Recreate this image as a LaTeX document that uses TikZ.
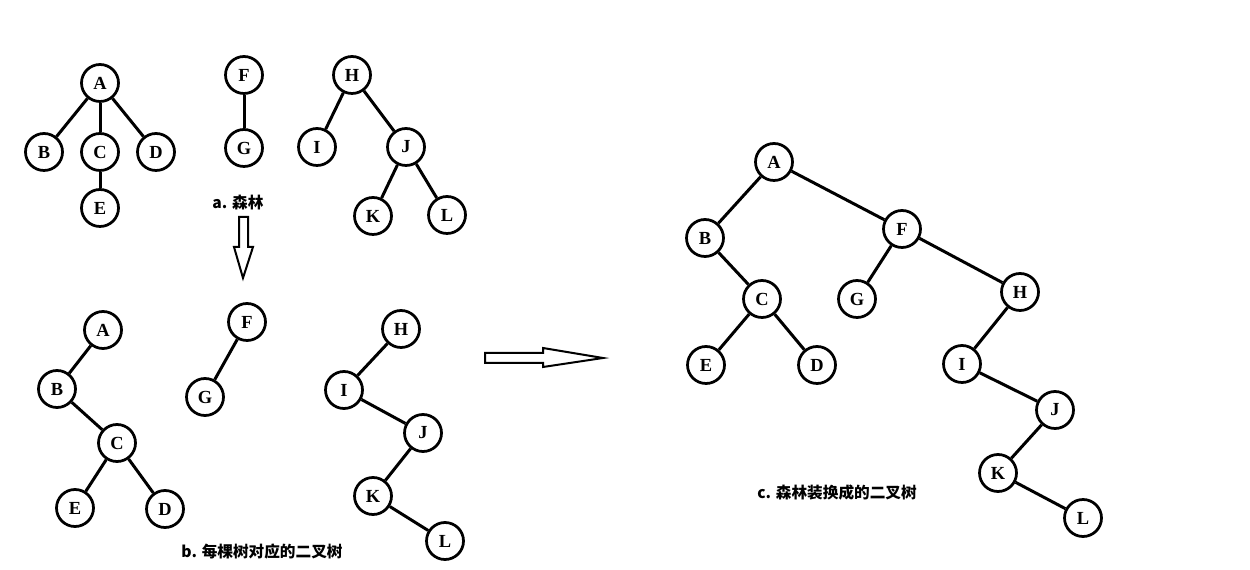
\documentclass[tikz,border=0pt]{standalone}
\usepackage{fontspec}
\setmainfont{Liberation Serif}
\newfontfamily\cjkfont{Noto Sans CJK SC}

\tikzstyle{vertex} = [circle, minimum size=0.74cm, inner sep=0pt, draw=black, line width=0.055cm, fill=white, font=\fontsize{10.5}{12}\selectfont\bfseries]
\tikzstyle{edge} = [line width=0.06cm]
\tikzstyle{caption} = [font=\cjkfont\bfseries\fontsize{8.9}{10}\selectfont]
\tikzstyle{hollow} = [line width=0.04cm, fill=white, line join=miter]

\begin{document}
\begin{tikzpicture}[x=0.02cm, y=-0.02cm]

    \useasboundingbox (0,0) rectangle (1250,570);

    % a. forest
    \node (forestA) [vertex] at (100,83) {A};
    \node (forestB) [vertex] at (44,152) {B};
    \node (forestC) [vertex] at (100,152) {C};
    \node (forestD) [vertex] at (156,152) {D};
    \node (forestE) [vertex] at (100,208) {E};
    \node (forestF) [vertex] at (244,75) {F};
    \node (forestG) [vertex] at (244,148) {G};
    \node (forestH) [vertex] at (352,75) {H};
    \node (forestI) [vertex] at (317,147) {I};
    \node (forestJ) [vertex] at (406,147) {J};
    \node (forestK) [vertex] at (373,216) {K};
    \node (forestL) [vertex] at (447,215) {L};
    \node (captionA) [caption] at (238,203) {a. 森林};

    \draw [edge] (forestA) -- (forestB);
    \draw [edge] (forestA) -- (forestC);
    \draw [edge] (forestA) -- (forestD);
    \draw [edge] (forestC) -- (forestE);
    \draw [edge] (forestF) -- (forestG);
    \draw [edge] (forestH) -- (forestI);
    \draw [edge] (forestH) -- (forestJ);
    \draw [edge] (forestJ) -- (forestK);
    \draw [edge] (forestJ) -- (forestL);

    % b. each tree as a binary tree
    \node (eachA) [vertex] at (103,330) {A};
    \node (eachB) [vertex] at (57,389) {B};
    \node (eachC) [vertex] at (117,443) {C};
    \node (eachE) [vertex] at (75,508) {E};
    \node (eachD) [vertex] at (165,509) {D};
    \node (eachF) [vertex] at (247,322) {F};
    \node (eachG) [vertex] at (205,397) {G};
    \node (eachH) [vertex] at (401,329) {H};
    \node (eachI) [vertex] at (344,390) {I};
    \node (eachJ) [vertex] at (423,433) {J};
    \node (eachK) [vertex] at (373,496) {K};
    \node (eachL) [vertex] at (445,541) {L};
    \node (captionB) [caption] at (262,552) {b. 每棵树对应的二叉树};

    \draw [edge] (eachA) -- (eachB);
    \draw [edge] (eachB) -- (eachC);
    \draw [edge] (eachC) -- (eachE);
    \draw [edge] (eachC) -- (eachD);
    \draw [edge] (eachF) -- (eachG);
    \draw [edge] (eachH) -- (eachI);
    \draw [edge] (eachI) -- (eachJ);
    \draw [edge] (eachJ) -- (eachK);
    \draw [edge] (eachK) -- (eachL);

    % c. the whole forest as one binary tree
    \node (binA) [vertex] at (774,162) {A};
    \node (binB) [vertex] at (705,238) {B};
    \node (binF) [vertex] at (902,229) {F};
    \node (binC) [vertex] at (762,299) {C};
    \node (binG) [vertex] at (857,299) {G};
    \node (binH) [vertex] at (1020,292) {H};
    \node (binE) [vertex] at (706,365) {E};
    \node (binD) [vertex] at (817,365) {D};
    \node (binI) [vertex] at (962,364) {I};
    \node (binJ) [vertex] at (1055,410) {J};
    \node (binK) [vertex] at (998,473) {K};
    \node (binL) [vertex] at (1083,518) {L};
    \node (captionC) [caption] at (837,493) {c. 森林装换成的二叉树};

    \draw [edge] (binA) -- (binB);
    \draw [edge] (binA) -- (binF);
    \draw [edge] (binB) -- (binC);
    \draw [edge] (binC) -- (binE);
    \draw [edge] (binC) -- (binD);
    \draw [edge] (binF) -- (binG);
    \draw [edge] (binF) -- (binH);
    \draw [edge] (binH) -- (binI);
    \draw [edge] (binI) -- (binJ);
    \draw [edge] (binJ) -- (binK);
    \draw [edge] (binK) -- (binL);

    % hollow arrows
    \draw [hollow] (239,217) -- (248,217) -- (248,247) -- (253,247) -- (243,278) -- (234,247) -- (239,247) -- cycle;
    \draw [hollow] (485,353) -- (543,353) -- (543,348) -- (603,358) -- (543,367) -- (543,363) -- (485,363) -- cycle;

\end{tikzpicture}
\end{document}
